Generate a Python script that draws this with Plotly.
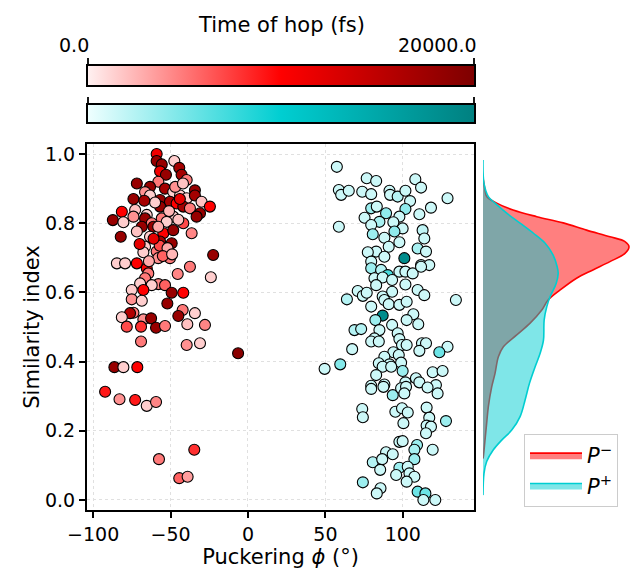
import plotly.graph_objects as go

# ---------------- data ----------------
# P- (red) cluster: puckering phi (deg), similarity index, time of hop (fs)
red_phi = [-59, -59, -47.6, -55.7, -44.4, -56.8, -53, -42.9, -39.6, -57.9, -71.8, -63.3, -53.6, -66.5, -34.3,
           -48.3, -43.9, -63.3, -74, -56.8, -50.4, -39.6, -34.3, -30, -46.1, -56.8, -41.8, -24.6, -37.5, -72.9,
           -65.4, -81.5, -31, -33.2, -74, -87.3, -80.5, -66.5, -55.7, -48.3, -52.5, -62.2, -68.6, -61.1, -41.8,
           -71.8, -54.7, -48.3, -63.3, -36.4, -82.2, -56.8, -49.3, -66.5, -59, -53.6, -67.6, -22.5, -50.4, -58,
           -84.7, -79.4, -71.8, -65.4, -64.4, -37.5, -45.4, -24, -66.5, -69.7, -57.9, -53.6, -62.2, -75.1, -67.6,
           -49.3, -41.8, -75.1, -68.6, -52.1, -42.2, -34.3, -74, -76.2, -45, -81.5, -67.6, -62.6, -39.2, -27.8,
           -78.3, -69.1, -59.4, -53.6, -69.1, -39.6, -31, -6.4, -86.3, -80.5, -71.5, -92.3, -83, -72.9, -65.4,
           -59.4, -34.7, -57.5, -44.4, -39,
           -57, -52, -55, -49, -61, -58, -45, -51, -44, -60, -67, -47, -42, -70, -64]
red_sim = [1.00, 0.98, 0.98, 0.97, 0.96, 0.95, 0.94, 0.94, 0.925, 0.92, 0.915, 0.905, 0.90, 0.89, 0.895,
           0.89, 0.88, 0.88, 0.87, 0.867, 0.862, 0.872, 0.88, 0.862, 0.857, 0.848, 0.848, 0.848, 0.843, 0.838,
           0.824, 0.833, 0.829, 0.819, 0.819, 0.809, 0.803, 0.814, 0.814, 0.819, 0.804, 0.80, 0.79, 0.79, 0.80,
           0.776, 0.771, 0.78, 0.761, 0.771, 0.761, 0.747, 0.742, 0.732, 0.718, 0.718, 0.716, 0.708, 0.699, 0.699,
           0.684, 0.684, 0.684, 0.67, 0.655, 0.674, 0.653, 0.644, 0.641, 0.626, 0.624, 0.621, 0.621, 0.607, 0.607,
           0.599, 0.599, 0.58, 0.576, 0.568, 0.549, 0.54, 0.541, 0.54, 0.532, 0.528, 0.522, 0.525, 0.508, 0.506,
           0.501, 0.501, 0.498, 0.503, 0.458, 0.448, 0.453, 0.424, 0.384, 0.384, 0.384, 0.313, 0.291, 0.289, 0.272,
           0.283, 0.145, 0.118, 0.063, 0.067,
           0.735, 0.728, 0.705, 0.71, 0.755, 0.79, 0.81, 0.835, 0.87, 0.86, 0.865, 0.905, 0.915, 0.74, 0.69]
red_time = [11000, 18000, 1500, 18000, 17000, 11000, 18000, 17000, 5000, 5000, 18000, 18000, 17000, 4000, 18000,
            1500, 1500, 1500, 18000, 18000, 17000, 1500, 17000, 2000, 10000, 18000, 17000, 10000, 5000, 2000,
            1500, 10000, 18000, 18000, 4000, 18000, 1500, 18000, 5000, 1500, 1500, 5000, 18000, 18000, 7000,
            2000, 10000, 18000, 1500, 4500, 18000, 17000, 18000, 1500, 5000, 5000, 1500, 18000, 5000, 4000,
            1500, 1500, 10000, 10000, 5000, 5000, 4500, 1500, 5000, 1500, 4500, 6000, 1500, 1500, 10000,
            18000, 10000, 4000, 1500, 18000, 5000, 1500, 5000, 16000, 18000, 1500, 4000, 18000, 2000, 4500,
            7000, 8000, 18000, 5000, 5000, 4000, 1500, 19000, 18000, 1500, 10000, 9000, 4000, 9000, 1500,
            4500, 8000, 5000, 6000, 3500,
            7000, 3000, 6000, 2500, 12000, 3000, 2000, 2500, 12000, 1500, 17000, 4000, 2000, 12000, 3000]

# P+ (cyan) cluster
cyan_phi = [57.4, 76.7, 82.8, 108.1, 111.8, 58.7, 60.2, 65.1, 73.8, 79.6, 91.4, 91.8, 96.7, 101.7, 104.7,
            128.9, 101.7, 118.2, 110.7, 79.6, 83.2, 89.2, 75.3, 97.8, 84.9, 79.6, 93.9, 58.7, 99.9, 112.8,
            80.6, 94.6, 88.1, 97.8, 113.9, 109.6, 115, 90.9, 82.8, 77.4, 88.1, 101, 79.6, 111.8, 117.1,
            79.6, 86, 90.3, 97.8, 101.7, 106.4, 111.8, 81.7, 87, 93.1, 101.7, 82.8, 70.9, 74.2, 76.7,
            93.1, 109.6, 113.9, 134.3, 63.9, 87, 88.1, 79.6, 90.9, 97.8, 102.5, 87, 82.3, 106.8, 102.5,
            110, 93.1, 68.8, 73.1, 84.9, 96.7, 81.7, 79.6, 84.5, 97.8, 99.5, 102.5, 112.4, 115, 128.9,
            67.3, 110.7, 123.6, 93.9, 97.4, 88.1, 59.6, 49.5, 84.5, 91.4, 98.9, 87, 92.5, 99.9, 82.8,
            108.5, 119.3, 125.7, 101.7, 88.1, 79.6, 110.7, 121.4, 79.6, 87.5, 93.5, 98.9, 102.1, 101, 116,
            122.5, 73.8, 74.2, 95.2, 99.5, 103.2, 100.4, 115.4, 117.1, 115.4, 118.2, 115, 127.9, 97.8, 99.9,
            109.2, 107.5, 119.3, 89.2, 93.5, 107.5, 80.6, 86.7, 85.4, 97.8, 103.2, 104.3, 95.7, 107.5, 102.5,
            74.2, 85.6, 83.2, 109.6, 114.6, 113.3, 121]
cyan_sim = [0.963, 0.93, 0.922, 0.927, 0.903, 0.896, 0.882, 0.894, 0.891, 0.884, 0.894, 0.882, 0.877, 0.894, 0.864,
            0.872, 0.841, 0.845, 0.826, 0.843, 0.848, 0.829, 0.816, 0.819, 0.804, 0.795, 0.803, 0.79, 0.785, 0.78,
            0.768, 0.776, 0.758, 0.745, 0.756, 0.727, 0.718, 0.732, 0.718, 0.716, 0.703, 0.699, 0.689, 0.679, 0.679,
            0.67, 0.665, 0.65, 0.66, 0.66, 0.655, 0.674, 0.641, 0.643, 0.636, 0.623, 0.621, 0.604, 0.59, 0.599,
            0.602, 0.607, 0.592, 0.578, 0.58, 0.588, 0.578, 0.559, 0.566, 0.564, 0.573, 0.533, 0.52, 0.537, 0.52,
            0.508, 0.506, 0.491, 0.494, 0.491, 0.482, 0.467, 0.458, 0.458, 0.465, 0.448, 0.448, 0.453, 0.453, 0.443,
            0.436, 0.431, 0.427, 0.427, 0.419, 0.414, 0.392, 0.379, 0.395, 0.392, 0.397, 0.385, 0.385, 0.373, 0.361,
            0.352, 0.369, 0.373, 0.34, 0.334, 0.33, 0.34, 0.332, 0.321, 0.327, 0.303, 0.323, 0.327, 0.308, 0.325,
            0.308, 0.263, 0.239, 0.255, 0.265, 0.253, 0.222, 0.267, 0.238, 0.215, 0.212, 0.193, 0.228, 0.168, 0.17,
            0.159, 0.145, 0.145, 0.138, 0.132, 0.118, 0.109, 0.118, 0.087, 0.093, 0.096, 0.077, 0.072, 0.067, 0.053,
            0.051, 0.034, 0.019, 0.024, 0.019, 0.00, 0.00]
cyan_time = [1500, 1500, 1500, 1500, 1500, 1500, 1500, 1500, 1500, 1500, 1500, 1500, 2500, 1500, 1500,
             1500, 4000, 1500, 1500, 3500, 1500, 4000, 1500, 1500, 3000, 1500, 1500, 1500, 1500, 2000,
             3500, 4000, 1500, 1500, 1500, 3000, 1500, 1500, 1500, 1500, 1500, 18500, 1500, 1500, 1500,
             3500, 2500, 7000, 1500, 1500, 1500, 1500, 1500, 1500, 1500, 1500, 1500, 1500, 1500, 1500,
             1500, 1500, 1500, 1500, 2500, 1500, 1500, 1500, 1500, 1500, 1500, 18500, 3500, 1500, 1500,
             1500, 1500, 2500, 2500, 1500, 1500, 1500, 1500, 1500, 1500, 1500, 1500, 1500, 1500, 1500,
             1500, 1500, 5500, 1500, 1500, 1500, 4500, 1500, 1500, 1500, 1500, 1500, 1500, 3500, 1500,
             1500, 1500, 1500, 1500, 1500, 1500, 1500, 1500, 1500, 1500, 3500, 1500, 1500, 1500, 1500,
             1500, 1500, 1500, 1500, 1500, 1500, 1500, 1500, 1500, 1500, 1500, 1500, 3500, 1500, 1500,
             3500, 3000, 1500, 1500, 1500, 3500, 2500, 1500, 1500, 3500, 1500, 1500, 1500, 1500, 1500,
             3500, 1500, 1500, 5500, 5500, 1500, 1500]

# marginal density curves (similarity index, density)
kde_red_sim = [0.93, 0.925, 0.896, 0.877, 0.858, 0.838, 0.819, 0.801, 0.780, 0.761, 0.747, 0.732, 0.713, 0.689,
               0.665, 0.641, 0.607, 0.578, 0.549, 0.511, 0.477, 0.443, 0.414, 0.366, 0.327, 0.270, 0.222, 0.173,
               0.125, 0.12]
kde_red_den = [0.0, 0.01, 0.06, 0.11, 0.41, 0.90, 1.61, 2.40, 3.10, 3.80, 4.25, 4.37, 4.25, 3.80,
               3.29, 2.80, 2.31, 1.95, 1.76, 1.41, 1.01, 0.61, 0.46, 0.36, 0.26, 0.16, 0.11, 0.06,
               0.01, 0.0]
kde_cyan_sim = [0.983, 0.915, 0.877, 0.858, 0.829, 0.80, 0.771, 0.742, 0.708, 0.674, 0.655, 0.626, 0.588, 0.559,
                0.520, 0.462, 0.424, 0.385, 0.337, 0.289, 0.241, 0.202, 0.173, 0.145, 0.111, 0.077, 0.014]
kde_cyan_den = [0.0, 0.03, 0.16, 0.36, 0.71, 1.11, 1.51, 1.86, 2.10, 2.22, 2.25, 2.19, 2.01, 1.91,
                1.83, 1.81, 1.71, 1.56, 1.39, 1.26, 1.11, 0.86, 0.56, 0.31, 0.11, 0.03, 0.0]

time_range = [0, 20000]
time_ticktext = ["0.0", "20000.0"]
colorbar_title = "Time of hop (fs)"
legend_labels = ["<i>P</i><sup>−</sup>", "<i>P</i><sup>+</sup>"]

# ---------------- styling ----------------
W, H = 630, 573
FONT = "DejaVu Sans"
red_scale = [[0, "#fff2f2"], [0.5, "#ff0000"], [1, "#7d0000"]]
cyan_scale = [[0, "#f0ffff"], [0.5, "#00ced1"], [1, "#008080"]]

def px_x(p):
    return p / W

def px_y(p):
    return 1 - p / H

BAR_L, BAR_R = 87, 475
RED_TOP, RED_BOT = 67, 88
CY_TOP, CY_BOT = 106, 125

def cbar(top, bot):
    return dict(orientation="h", lenmode="pixels", len=BAR_R - BAR_L, thicknessmode="pixels",
                thickness=bot - top, x=px_x((BAR_L + BAR_R) / 2), xanchor="center",
                y=px_y(bot), yanchor="bottom", xpad=0, ypad=0,
                outlinewidth=2, outlinecolor="black", ticks="", showticklabels=False)

fig = go.Figure()

fig.add_trace(go.Scatter(
    x=red_phi, y=red_sim, mode="markers", showlegend=False,
    marker=dict(size=11, color=red_time, colorscale=red_scale, cmin=time_range[0], cmax=time_range[1],
                line=dict(color="black", width=1.1), showscale=True, colorbar=cbar(RED_TOP, RED_BOT)),
    xaxis="x", yaxis="y"))

fig.add_trace(go.Scatter(
    x=cyan_phi, y=cyan_sim, mode="markers", showlegend=False,
    marker=dict(size=11, color=cyan_time, colorscale=cyan_scale, cmin=time_range[0], cmax=time_range[1],
                line=dict(color="black", width=1.1), showscale=True, colorbar=cbar(CY_TOP, CY_BOT)),
    xaxis="x", yaxis="y"))

fig.add_trace(go.Scatter(
    x=kde_red_den, y=kde_red_sim, mode="lines", fill="tozerox", name=legend_labels[0],
    line=dict(color="#ff0000", width=1.6, shape="spline"), fillcolor="rgba(255,0,0,0.5)",
    xaxis="x2", yaxis="y2"))
fig.add_trace(go.Scatter(
    x=kde_cyan_den, y=kde_cyan_sim, mode="lines", fill="tozerox", name=legend_labels[1],
    line=dict(color="#00ced1", width=1.6, shape="spline"), fillcolor="rgba(0,206,209,0.5)",
    xaxis="x2", yaxis="y2"))

# colorbar tick marks at the bar ends (above the bars)
shapes = []
for top in (RED_TOP, CY_TOP):
    for xe in (BAR_L + 1, BAR_R - 1):
        shapes.append(dict(type="line", xref="paper", yref="paper", x0=px_x(xe), x1=px_x(xe),
                           y0=px_y(top), y1=px_y(top - 9), line=dict(color="black", width=1.8),
                           layer="above"))

annotations = [
    dict(text=colorbar_title, x=px_x(281), y=px_y(25), xref="paper", yref="paper", showarrow=False,
         xanchor="center", yanchor="middle", font=dict(size=21, family=FONT, color="black")),
    dict(text=time_ticktext[0], x=px_x(BAR_L + 4), y=px_y(45), xref="paper", yref="paper", showarrow=False,
         xanchor="right", yanchor="middle", font=dict(size=19, family=FONT, color="black")),
    dict(text=time_ticktext[1], x=px_x(BAR_R + 4), y=px_y(45), xref="paper", yref="paper", showarrow=False,
         xanchor="right", yanchor="middle", font=dict(size=19, family=FONT, color="black")),
]

ydom = [px_y(510), px_y(144)]
yrange = [-0.029, 1.029]

fig.update_layout(
    width=W, height=H, margin=dict(l=0, r=0, t=0, b=0, autoexpand=False),
    paper_bgcolor="white", plot_bgcolor="white",
    font=dict(family=FONT, size=19, color="black"),
    shapes=shapes, annotations=annotations,
    xaxis=dict(domain=[px_x(87), px_x(474)], range=[-104, 146], anchor="y",
               tickvals=[-100, -50, 0, 50, 100], ticks="outside", ticklen=6, tickwidth=1.5,
               tickcolor="black", showline=True, linewidth=2, linecolor="black", mirror=True,
               showgrid=True, gridcolor="#e0e0e0", griddash="dot", gridwidth=1, zeroline=False,
               tickfont=dict(size=19),
               title=dict(text="Puckering <i>ϕ</i> (°)", font=dict(size=21), standoff=2)),
    yaxis=dict(domain=ydom, range=yrange, anchor="x",
               tickvals=[0, 0.2, 0.4, 0.6, 0.8, 1.0], tickformat=".1f", ticks="outside", ticklen=6,
               tickwidth=1.5, tickcolor="black", showline=True, linewidth=2, linecolor="black",
               mirror=True, showgrid=True, gridcolor="#e0e0e0", griddash="dot", gridwidth=1,
               zeroline=False, tickfont=dict(size=19),
               title=dict(text="Similarity index", font=dict(size=21), standoff=0)),
    xaxis2=dict(domain=[px_x(483), 1.0], range=[0, 4.4], anchor="y2", visible=False),
    yaxis2=dict(domain=ydom, range=yrange, anchor="x2", visible=False),
    legend=dict(x=px_x(524), y=px_y(434), xanchor="left", yanchor="top", itemwidth=52,
                bgcolor="white", bordercolor="#cccccc", borderwidth=1,
                font=dict(size=21, family=FONT)),
)

fig.write_html("out.html", config={"displayModeBar": False},
               post_script="document.body.style.margin='0';")
